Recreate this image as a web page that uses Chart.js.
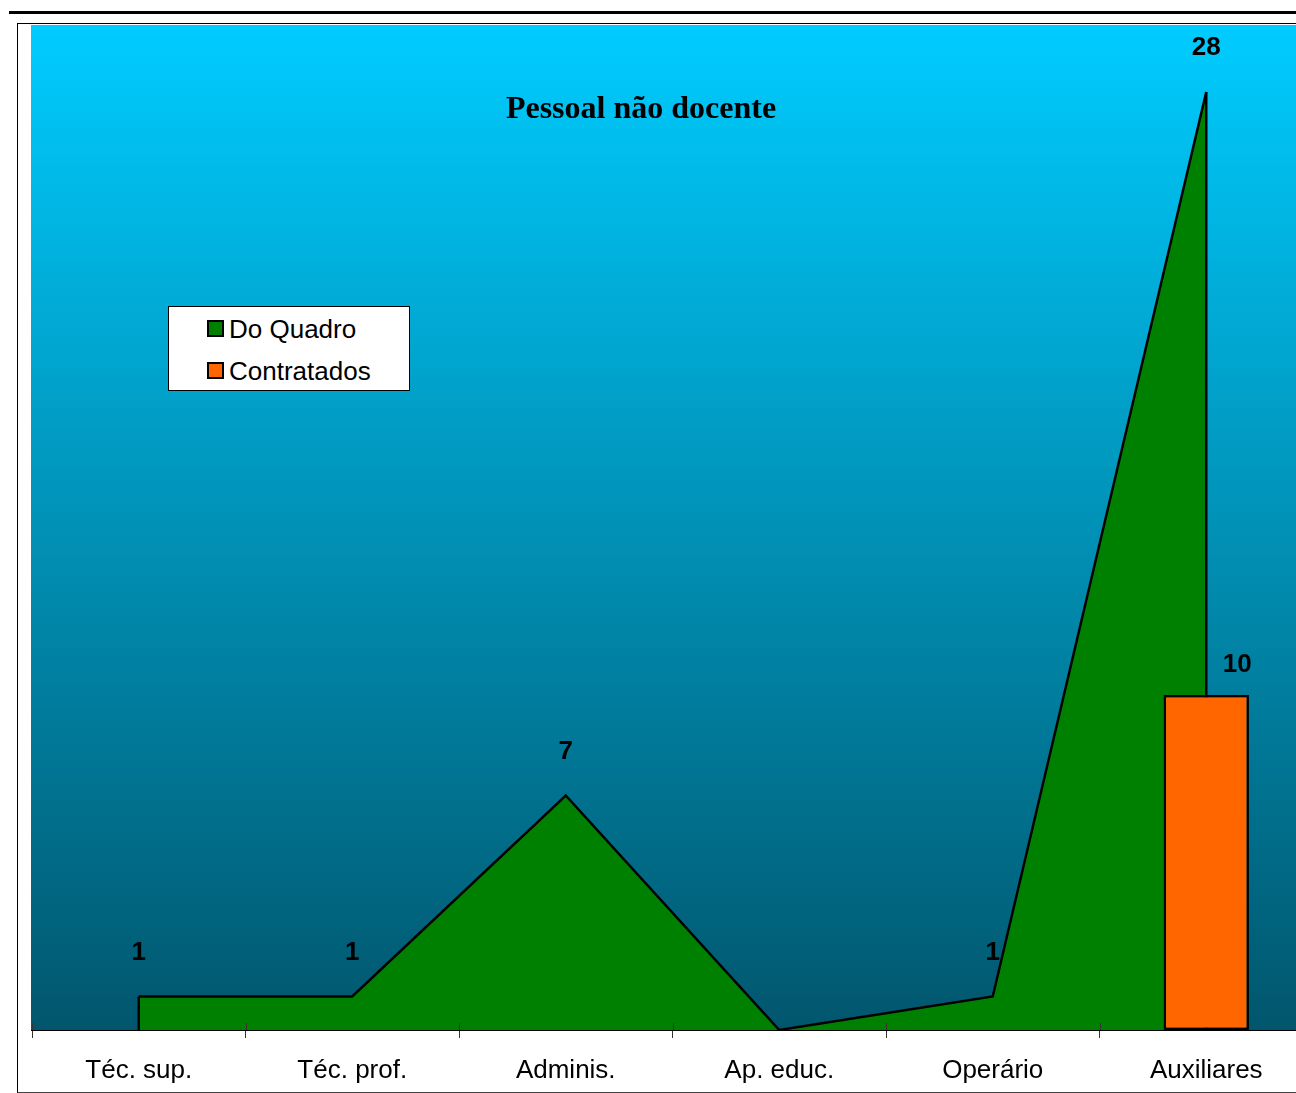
<!DOCTYPE html>
<html>
<head>
<meta charset="utf-8">
<script src="https://cdn.jsdelivr.net/npm/chart.js@4.4.0/dist/chart.umd.min.js"></script>
<style>
  body { margin: 0; background: #fff; font-family: "Liberation Sans", Arial, sans-serif; }
  #page { position: relative; width: 1296px; height: 1093px; overflow: hidden; }
  #topline { position: absolute; left: 9px; top: 11px; width: 1300px; height: 3px; background: #000; }
  #frame { position: absolute; left: 17px; top: 23px; width: 1400px; height: 1068px; border: 1.5px solid #000; border-bottom-color: #444; }
  #wrap { position: absolute; left: 0; top: 0; width: 1330px; height: 1093px; }
  #legend { position: absolute; left: 168px; top: 306px; width: 240px; height: 83px; background: #fff; border: 1px solid #000; }
  .item { position: absolute; left: 38px; font-size: 26px; line-height: 26px; color: #000; }
  .item span { display: inline-block; width: 13px; height: 13px; border: 2px solid #000; margin-right: 5px; vertical-align: 1px; }
</style>
</head>
<body>
<div id="page">
  <div id="topline"></div>
  <div id="frame"></div>
  <div id="wrap"><canvas id="chart-area-1"></canvas></div>
  <div id="legend">
    <div class="item" style="top:9px"><span style="background:#008000"></span>Do Quadro</div>
    <div class="item" style="top:51px"><span style="background:#ff6600"></span>Contratados</div>
  </div>
</div>
<script>
'use strict';
var categories = ['Téc. sup.', 'Téc. prof.', 'Adminis.', 'Ap. educ.', 'Operário', 'Auxiliares'];
var doQuadro = [1, 1, 7, 0, 1, 28];
var contratados = [null, null, null, null, null, 10];

Chart.defaults.font.family = '"Liberation Sans", Arial, sans-serif';

// [ plot background + title ]
var plotBg = {
    id: 'plotBg',
    beforeDatasetsDraw: function(chart) {
        var ctx = chart.ctx, a = chart.chartArea;
        var g = ctx.createLinearGradient(0, a.top, 0, a.bottom);
        g.addColorStop(0, '#00ccff');
        g.addColorStop(1, '#01566d');
        ctx.save();
        ctx.fillStyle = g;
        ctx.fillRect(a.left - 1, a.top, a.right - a.left + 1, a.bottom - a.top);
        ctx.fillStyle = '#000';
        ctx.font = 'bold 32px "Liberation Serif", "Times New Roman", serif';
        ctx.textAlign = 'center';
        ctx.textBaseline = 'alphabetic';
        ctx.fillText('Pessoal não docente', 641, 118);
        ctx.restore();
    }
};

// [ vertical ends of the area, drawn before the bar ]
var areaEdges = {
    id: 'areaEdges',
    afterDatasetDraw: function(chart, args) {
        if (args.index !== 0) return;
        var pts = args.meta.data, y0 = chart.scales.y.getPixelForValue(0);
        var ctx = chart.ctx;
        ctx.save();
        ctx.strokeStyle = '#000';
        ctx.lineWidth = 2.5;
        [pts[0], pts[pts.length - 1]].forEach(function(p) {
            ctx.beginPath();
            ctx.moveTo(p.x, p.y);
            ctx.lineTo(p.x, y0);
            ctx.stroke();
        });
        ctx.restore();
    }
};

// [ value labels ]
var valueLabels = {
    id: 'valueLabels',
    afterDatasetsDraw: function(chart) {
        var ctx = chart.ctx;
        ctx.save();
        ctx.fillStyle = '#000';
        ctx.font = 'bold 26px "Liberation Sans", Arial, sans-serif';
        ctx.textAlign = 'center';
        ctx.textBaseline = 'middle';
        chart.getDatasetMeta(0).data.forEach(function(p, i) {
            if (doQuadro[i]) ctx.fillText(String(doQuadro[i]), p.x, p.y - 44);
        });
        chart.getDatasetMeta(1).data.forEach(function(b, i) {
            if (contratados[i]) ctx.fillText(String(contratados[i]), b.x + 31, b.y - 30);
        });
        // small tick parts above the axis
        var xs = chart.scales.x, a = chart.chartArea;
        var step = xs.getPixelForTick(1) - xs.getPixelForTick(0);
        ctx.strokeStyle = '#333';
        ctx.lineWidth = 1;
        for (var i = 0; i <= categories.length; i++) {
            var x = Math.round(xs.getPixelForTick(0) - step / 2 + i * step) + 0.5;
            ctx.beginPath();
            ctx.moveTo(x, a.bottom - 7);
            ctx.lineTo(x, a.bottom);
            ctx.stroke();
        }
        ctx.restore();
    }
};

var ctx = document.getElementById('chart-area-1').getContext('2d');
var myChart = new Chart(ctx, {
    data: {
        labels: categories,
        datasets: [{
            type: 'line',
            label: 'Do Quadro',
            data: doQuadro,
            order: 1,
            fill: 'origin',
            backgroundColor: '#008000',
            borderColor: '#000',
            borderWidth: 2.5,
            pointRadius: 0,
            tension: 0
        }, {
            type: 'bar',
            label: 'Contratados',
            data: contratados,
            order: 0,
            backgroundColor: '#ff6600',
            borderColor: '#000',
            borderWidth: 2.5,
            borderSkipped: false,
            barPercentage: 0.4,
            categoryPercentage: 1
        }]
    },
    options: {
        responsive: true,
        maintainAspectRatio: false,
        animation: false,
        layout: { padding: { left: 32, top: 25, right: 17, bottom: 0 } },
        plugins: {
            legend: { display: false },
            tooltip: { enabled: false }
        },
        scales: {
            x: {
                offset: true,
                grid: { offset: true, drawOnChartArea: false, drawTicks: true, tickLength: 8, color: '#333' },
                border: { display: true, color: '#000', width: 2 },
                ticks: { color: '#000', font: { size: 26 }, padding: 17, maxRotation: 0 },
                afterFit: function(scale) { scale.height = 63; }
            },
            y: {
                display: false,
                min: 0,
                max: 30
            }
        }
    },
    plugins: [plotBg, areaEdges, valueLabels]
});
</script>
</body>
</html>
